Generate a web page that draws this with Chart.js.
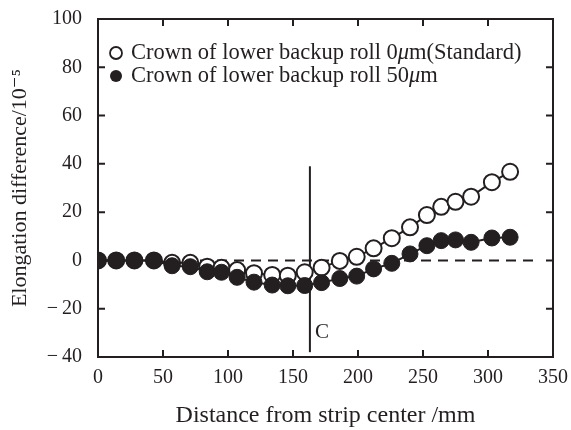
<!DOCTYPE html>
<html>
<head>
<meta charset="utf-8">
<script src="https://cdn.jsdelivr.net/npm/chart.js@4.4.0/dist/chart.umd.min.js"></script>
<style>
  html, body { margin: 0; padding: 0; background: #fff; }
  #wrap { position: relative; width: 571px; height: 430px; }
</style>
</head>
<body>
<div id="wrap"><canvas id="chart" width="571" height="430"></canvas></div>
<script>
// Данные
var distance = [0, 14, 28, 43, 57, 71, 84, 95, 107, 120, 134, 146, 159, 172, 186, 199, 212, 226, 240, 253, 264, 275, 287, 303, 317];
var crown0 = [0, 0, 0, 0, -1, -1, -2.6, -3, -4, -5.3, -6, -6.3, -4.9, -3, -0.2, 1.5, 5, 9.2, 13.7, 18.8, 22.2, 24.3, 26.4, 32.4, 36.7];
var crown50 = [0, 0, 0, 0, -2.2, -2.6, -4.7, -4.9, -7, -9, -10.2, -10.5, -10.4, -9.2, -7.5, -6.5, -3.5, -1.2, 2.7, 6.1, 8.2, 8.5, 7.5, 9.3, 9.6];
var seriesLabels = ['Crown of lower backup roll 0μm(Standard)', 'Crown of lower backup roll 50μm'];
var zeroLineX = [0, 340];
var positionC = 163;
var rangeC = [-38, 39];
var xTicks = [0, 50, 100, 150, 200, 250, 300, 350];
var yTicks = [-40, -20, 0, 20, 40, 60, 80, 100];

var INK = '#231f20';
var FONT = "'Liberation Serif', 'DejaVu Serif', serif";

function toPoints(xs, ys) {
    return xs.map(function(x, i) { return { x: x, y: ys[i] }; });
}

// Рамка, внутренние засечки, метка C и легенда
var decorPlugin = {
    id: 'decor',
    afterDatasetsDraw: function(chart) {
        var ctx = chart.ctx;
        var a = chart.chartArea;
        var xs = chart.scales.x, ys = chart.scales.y;
        var tl = 7;
        ctx.save();
        ctx.strokeStyle = INK;
        ctx.lineWidth = 2;
        ctx.strokeRect(a.left, a.top, a.right - a.left, a.bottom - a.top);
        ctx.beginPath();
        xTicks.forEach(function(v) {
            var px = xs.getPixelForValue(v);
            ctx.moveTo(px, a.bottom); ctx.lineTo(px, a.bottom - tl);
            ctx.moveTo(px, a.top); ctx.lineTo(px, a.top + tl);
        });
        yTicks.forEach(function(v) {
            var py = ys.getPixelForValue(v);
            ctx.moveTo(a.left, py); ctx.lineTo(a.left + tl, py);
            ctx.moveTo(a.right, py); ctx.lineTo(a.right - tl, py);
        });
        ctx.stroke();

        // метка C
        ctx.fillStyle = INK;
        ctx.font = '21px ' + FONT;
        ctx.textAlign = 'left';
        ctx.textBaseline = 'middle';
        ctx.fillText('C', xs.getPixelForValue(positionC) + 5, ys.getPixelForValue(-30));

        // легенда
        var rows = [53, 76];
        seriesLabels.forEach(function(label, i) {
            var cy = rows[i];
            ctx.beginPath();
            ctx.arc(116, cy, 6, 0, Math.PI * 2);
            if (i === 0) {
                ctx.fillStyle = '#fff';
                ctx.fill();
                ctx.lineWidth = 1.8;
                ctx.stroke();
            } else {
                ctx.fillStyle = INK;
                ctx.fill();
            }
            ctx.fillStyle = INK;
            var x = 131;
            var parts = label.split('μ');
            parts.forEach(function(part, k) {
                ctx.font = '22.5px ' + FONT;
                ctx.fillText(part, x, cy);
                x += ctx.measureText(part).width;
                if (k < parts.length - 1) {
                    ctx.font = 'italic 22.5px ' + FONT;
                    ctx.fillText('μ', x, cy);
                    x += ctx.measureText('μ').width;
                }
            });
        });
        ctx.restore();
    }
};

function createChart() {
    var canvas = document.getElementById('chart');
    new Chart(canvas, {
        type: 'line',
        data: {
            datasets: [
                {
                    label: seriesLabels[0],
                    data: toPoints(distance, crown0),
                    borderColor: INK,
                    borderWidth: 2,
                    pointRadius: 8,
                    pointBackgroundColor: '#fff',
                    pointBorderColor: INK,
                    pointBorderWidth: 2,
                    order: 2
                },
                {
                    label: seriesLabels[1],
                    data: toPoints(distance, crown50),
                    borderColor: INK,
                    borderWidth: 2,
                    pointRadius: 8,
                    pointBackgroundColor: INK,
                    pointBorderColor: INK,
                    pointBorderWidth: 1,
                    order: 1
                },
                {
                    label: 'zero',
                    data: toPoints(zeroLineX, [0, 0]),
                    borderColor: INK,
                    borderWidth: 2,
                    borderDash: [10, 7],
                    pointRadius: 0,
                    order: 4
                },
                {
                    label: 'C',
                    data: toPoints([positionC, positionC], rangeC),
                    borderColor: INK,
                    borderWidth: 2,
                    pointRadius: 0,
                    order: 3
                }
            ]
        },
        options: {
            responsive: false,
            animation: false,
            layout: { padding: { top: 19, right: 18, left: 0, bottom: 0 } },
            plugins: { legend: { display: false }, tooltip: { enabled: false } },
            scales: {
                x: {
                    type: 'linear',
                    min: 0, max: 350,
                    afterBuildTicks: function(s) { s.ticks = xTicks.map(function(v) { return { value: v }; }); },
                    grid: { display: false, drawTicks: false },
                    border: { display: false },
                    ticks: { color: INK, font: { family: FONT, size: 20 }, padding: 9, maxRotation: 0 },
                    title: { display: true, text: 'Distance from strip center /mm', color: INK,
                             font: { family: FONT, size: 24 }, padding: { top: 8, bottom: 0 } },
                    afterFit: function(s) { s.height = 73; s.paddingLeft = 0; s.paddingRight = 0; }
                },
                y: {
                    min: -40, max: 100,
                    afterBuildTicks: function(s) { s.ticks = yTicks.map(function(v) { return { value: v }; }); },
                    grid: { display: false, drawTicks: false },
                    border: { display: false },
                    ticks: {
                        color: INK, font: { family: FONT, size: 20 }, padding: 16,
                        callback: function(v) { return v < 0 ? '−\u2009' + Math.abs(v) : String(v); }
                    },
                    title: { display: true, text: 'Elongation difference/10⁻⁵', color: INK,
                             font: { family: FONT, size: 22 }, padding: { top: 7, bottom: 0 } },
                    afterFit: function(s) { s.width = 98; s.paddingTop = 0; s.paddingBottom = 0; }
                }
            }
        },
        plugins: [decorPlugin]
    });
}

document.addEventListener('DOMContentLoaded', createChart);
</script>
</body>
</html>
